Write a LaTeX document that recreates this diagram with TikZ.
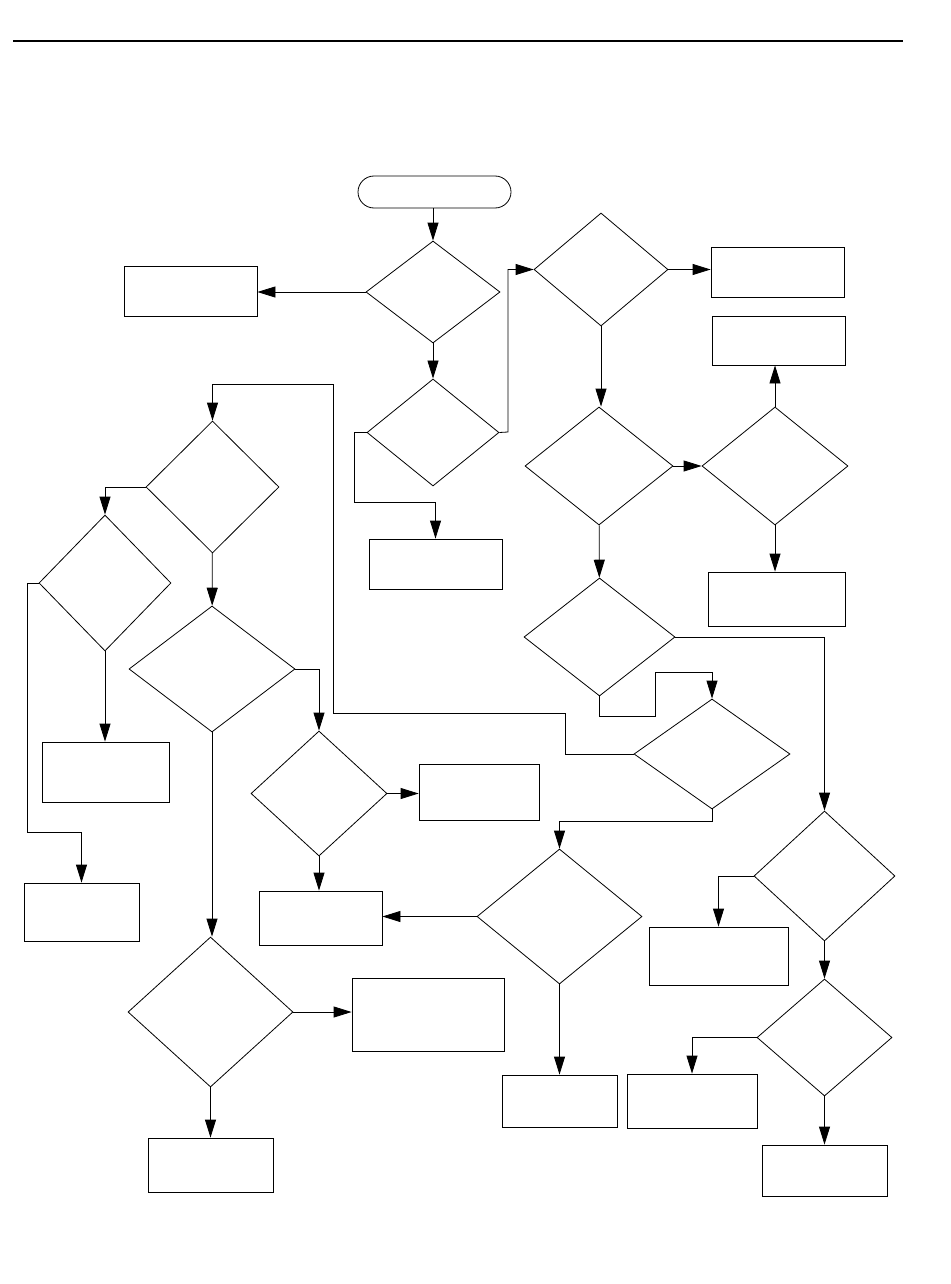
\documentclass[tikz,border=0pt]{standalone}
\usetikzlibrary{shapes.geometric}
\usetikzlibrary{arrows.meta}

\begin{document}
\begin{tikzpicture}[x=1pt,y=-1pt,line width=0.8pt,
  box/.style={draw,rectangle,inner sep=0pt},
  test/.style={draw,diamond,inner sep=0pt},
  flow/.style={-{Triangle[length=18pt,width=11pt]}}]
\useasboundingbox (0,0) rectangle (950,1284);
\draw [line width=2.4pt] (13,41) -- (903,41);

\node (start) [draw,rectangle,rounded corners=16pt,minimum width=153pt,minimum height=32pt] at (434.5,192) {};
\node (d1) [test,minimum width=134pt,minimum height=102pt] at (433,292) {};
\node (b1) [box,minimum width=133pt,minimum height=50pt] at (190.5,291) {};
\node (d2) [test,minimum width=132pt,minimum height=107pt] at (433,432.5) {};
\node (b2) [box,minimum width=133pt,minimum height=50pt] at (435.5,564) {};
\node (d3) [test,minimum width=134pt,minimum height=113pt] at (601,269.5) {};
\node (b3) [box,minimum width=133pt,minimum height=50pt] at (777.5,272) {};
\node (b4) [box,minimum width=133pt,minimum height=49pt] at (778.5,340.5) {};
\node (d4) [test,minimum width=148pt,minimum height=118pt] at (599,466) {};
\node (d5) [test,minimum width=146pt,minimum height=118pt] at (775,466) {};
\node (b5) [box,minimum width=137pt,minimum height=54pt] at (776.5,599) {};
\node (d6) [test,minimum width=151pt,minimum height=118pt] at (599.5,637) {};
\node (d7) [test,minimum width=156pt,minimum height=110pt] at (712,754) {};
\node (d8) [test,minimum width=133pt,minimum height=132pt] at (212.5,487) {};
\node (d10) [test,minimum width=132pt,minimum height=136pt] at (105,583) {};
\node (b6) [box,minimum width=115pt,minimum height=58pt] at (81.5,912) {};
\node (b7) [box,minimum width=127pt,minimum height=60pt] at (105.5,772) {};
\node (d11) [test,minimum width=166pt,minimum height=126pt] at (212,669) {};
\node (d12) [test,minimum width=136pt,minimum height=125pt] at (319,793.5) {};
\node (b8) [box,minimum width=120pt,minimum height=56pt] at (479,792) {};
\node (b9) [box,minimum width=123pt,minimum height=54pt] at (320.5,918) {};
\node (d13) [test,minimum width=165pt,minimum height=135pt] at (559.5,916.5) {};
\node (b10) [box,minimum width=115pt,minimum height=52pt] at (559.5,1101) {};
\node (d14) [test,minimum width=165pt,minimum height=150pt] at (210.5,1012) {};
\node (b11) [box,minimum width=152pt,minimum height=73pt] at (428,1014.5) {};
\node (b12) [box,minimum width=125pt,minimum height=54pt] at (210.5,1165) {};
\node (d9) [test,minimum width=141pt,minimum height=130pt] at (824.5,876) {};
\node (b13) [box,minimum width=139pt,minimum height=58pt] at (718.5,956) {};
\node (d15) [test,minimum width=135pt,minimum height=117pt] at (824.5,1037.5) {};
\node (b14) [box,minimum width=130pt,minimum height=54pt] at (692,1101) {};
\node (b15) [box,minimum width=125pt,minimum height=51pt] at (824.5,1170.5) {};

% bend points
\coordinate (k1) at (354,502);
\coordinate (k2) at (508,432);
\coordinate (k3) at (655,716);
\coordinate (k4) at (655,672);
\coordinate (k5) at (565,713);
\coordinate (k6) at (333,713);
\coordinate (k7) at (333,384);
\coordinate (k8) at (27,832);

\draw [flow] (d1.north |- start.south) -- (d1.north);
\draw [flow] (d1.west) -- (d1.west -| b1.east);
\draw [flow] (d1) -- (d2);
\draw [flow] (d2.west) -| (k1) -| (b2.north);
\draw [flow] (d2.east) -- (k2) |- (d3.west);
\draw [flow] (d3.east) -- (d3.east -| b3.west);
\draw [flow] (d3.south) -- (d3.south |- d4.north);
\draw [flow] (d4) -- (d5);
\draw [flow] (d5.north) -- (d5.north |- b4.south);
\draw [flow] (d5.south) -- (d5.south |- b5.north);
\draw [flow] (d4) -- (d6);
\draw [flow] (d6.south) |- (k3) -- (k4) -| (d7.north);
\draw [flow] (d6.east) -| (d9.north);
\draw [flow] (d7.west) -| (k5) -- (k6) -- (k7) -| (d8.north);
\draw [flow] (d8.west) -| (d10.north);
\draw [flow] (d10.west) -| (k8) -| (b6.north);
\draw [flow] (d10.south) -- (d10.south |- b7.north);
\draw [flow] (d8) -- (d11);
\draw [flow] (d11.east) -| (d12.north);
\draw [flow] (d12.east) -- (d12.east -| b8.west);
\draw [flow] (d12.south) -- (d12.south |- b9.north);
\draw [flow] (d7.south) -- ++(0,12) -| (d13.north);
\draw [flow] (d13.west) -- (d13.west -| b9.east);
\draw [flow] (d13) -- (b10);
\draw [flow] (d11.south) -- (d11.south |- d14.north);
\draw [flow] (d14.east) -- (d14.east -| b11.west);
\draw [flow] (d14) -- (b12);
\draw [flow] (d9.west) -| (b13.north);
\draw [flow] (d9) -- (d15);
\draw [flow] (d15.west) -| (b14.north);
\draw [flow] (d15) -- (b15);
\end{tikzpicture}
\end{document}
